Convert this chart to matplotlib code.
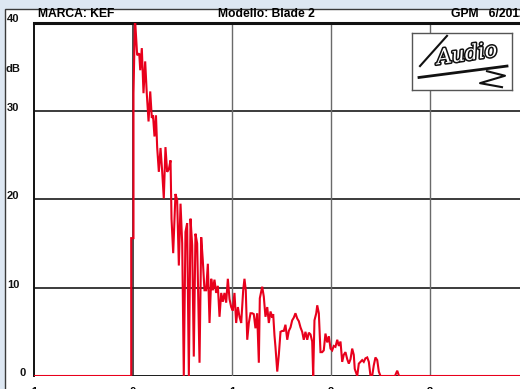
import matplotlib
matplotlib.use("Agg")
import matplotlib.pyplot as plt
from matplotlib.patches import Rectangle
from matplotlib.transforms import blended_transform_factory
import matplotlib.patheffects as pe

plt.rcParams['font.family'] = ['Liberation Sans', 'DejaVu Sans']

# Cumulative decay trace: time (ms) and level (dB)
time_ms = [
    -1.0, -0.018, -0.018, 0.005, 0.005, 0.02, 0.042, 0.063, 0.073, 0.089,
    0.106, 0.123, 0.139, 0.157, 0.174, 0.19, 0.202, 0.217, 0.232, 0.244,
    0.261, 0.278, 0.295, 0.311, 0.328, 0.345, 0.362, 0.379, 0.389, 0.406,
    0.429, 0.446, 0.463, 0.48, 0.497, 0.513, 0.53, 0.547, 0.564, 0.581,
    0.598, 0.614, 0.631, 0.648, 0.672, 0.689, 0.705, 0.722, 0.739, 0.756,
    0.773, 0.79, 0.806, 0.823, 0.84, 0.857, 0.874, 0.891, 0.907, 0.924,
    0.941, 0.958, 0.975, 0.992, 1.008, 1.025, 1.042, 1.059, 1.076, 1.093,
    1.113, 1.126, 1.139, 1.154, 1.17, 1.187, 1.204, 1.22, 1.237, 1.254,
    1.271, 1.281, 1.305, 1.321, 1.338, 1.356, 1.372, 1.389, 1.406, 1.416,
    1.429, 1.439, 1.457, 1.473, 1.49, 1.507, 1.523, 1.54, 1.558, 1.574,
    1.591, 1.608, 1.624, 1.641, 1.659, 1.675, 1.692, 1.709, 1.725, 1.742,
    1.76, 1.776, 1.793, 1.81, 1.82, 1.833, 1.851, 1.861, 1.877, 1.894,
    1.911, 1.927, 1.944, 1.962, 1.978, 1.995, 2.012, 2.028, 2.045, 2.063,
    2.079, 2.096, 2.113, 2.129, 2.146, 2.164, 2.18, 2.197, 2.214, 2.23,
    2.24, 2.265, 2.281, 2.298, 2.315, 2.331, 2.348, 2.366, 2.382, 2.399,
    2.416, 2.432, 2.449, 2.467, 2.483, 2.5, 2.646, 2.669, 2.687, 3.95,
]
level_db = [
    0.0, 0.0, 15.6, 15.6, 32.0, 40.5, 36.3, 36.5, 34.6, 37.1,
    32.0, 35.6, 32.0, 28.8, 32.2, 29.2, 29.5, 27.1, 29.5, 25.9,
    23.1, 25.8, 23.1, 20.1, 25.9, 23.1, 23.4, 24.4, 17.8, 13.9,
    20.6, 19.9, 12.5, 19.5, 15.0, 0.0, 16.3, 17.3, 0.0, 17.8,
    14.8, 2.2, 16.1, 15.0, 1.5, 15.7, 13.1, 9.7, 9.7, 12.7,
    6.0, 11.0, 9.7, 10.9, 9.4, 10.2, 6.7, 9.4, 8.4, 9.4,
    8.3, 11.0, 8.7, 7.8, 7.4, 9.4, 6.0, 7.8, 6.7, 6.0,
    9.7, 11.0, 9.7, 4.1, 6.0, 7.1, 7.1, 7.0, 5.4, 7.1,
    1.5, 8.8, 10.1, 9.0, 6.7, 7.8, 6.0, 7.3, 6.6, 7.0,
    4.6, 3.3, 0.5, 2.4, 5.0, 5.1, 5.1, 5.8, 4.1, 5.1,
    5.5, 6.3, 6.6, 7.1, 6.5, 6.2, 5.5, 5.0, 4.1, 5.0,
    4.1, 4.9, 4.7, 3.9, 0.0, 6.3, 7.1, 8.0, 7.1, 2.7,
    2.7, 2.9, 4.8, 3.8, 4.5, 3.1, 2.9, 3.4, 3.3, 4.1,
    3.4, 3.9, 1.6, 2.4, 2.7, 1.9, 1.4, 1.9, 3.1, 2.4,
    0.8, 0.0, 1.4, 1.6, 1.8, 1.6, 2.0, 2.1, 1.6, 0.0,
    0.0, 1.2, 2.1, 1.8, 0.5, 0.0, 0.0, 0.6, 0.0, 0.0,
]

x_ticks = [-1, 0, 1, 2, 3]
x_tick_labels = ["-1", "0", "1", "2", "3"]
y_ticks = [0, 10, 20, 30, 40]
y_tick_labels = ["0", "10", "20", "30", "40"]

W, H = 520, 389
fig = plt.figure(figsize=(W / 100, H / 100), dpi=100)
fig.patch.set_facecolor("#dde7f2")

# white sheet behind the chart
sheet = Rectangle((4.5 / W, -0.1), 1.2, 1 - 8.5 / H + 0.1, transform=fig.transFigure,
                  facecolor="white", edgecolor="#3a3a3a", linewidth=1.0, zorder=-5)
fig.patches.append(sheet)

left_px, bottom_px, top_px = 34, 376, 22.5
ax = fig.add_axes([left_px / W, (H - bottom_px) / H, (W - left_px) / W, (bottom_px - top_px) / H])
ax.set_zorder(1)
ax.set_facecolor("white")
ax.set_xlim(-1, -1 + (W - left_px) / 99.0)
ax.set_ylim(0, 40)

for s in ["right", "bottom"]:
    ax.spines[s].set_visible(False)
ax.spines["top"].set_linewidth(2.2)
ax.spines["left"].set_linewidth(1.4)
ax.spines["top"].set_color("#111111")
ax.spines["left"].set_color("#111111")

# grid
for yv in [10, 20, 30]:
    ax.axhline(yv, color="#1a1a1a", lw=1.2, zorder=1)
ax.axhline(0, color="#1a1a1a", lw=1.4, zorder=1)
for xv in [1, 2, 3]:
    ax.axvline(xv, color="#6a6a6a", lw=1.0, zorder=1)
ax.axvline(0, color="#1a1a1a", lw=1.1, zorder=1)

ax.plot(time_ms, level_db, color="#e8001c", lw=1.5, zorder=3, solid_joinstyle="miter")

ax.set_xticks(x_ticks)
ax.set_xticklabels(x_tick_labels, fontsize=8, fontweight="bold")
ax.tick_params(axis="x", length=0, pad=8)
ax.set_yticks([])

# y labels
ytrans = blended_transform_factory(fig.transFigure, ax.transData)
for yv, lab in zip(y_ticks, y_tick_labels):
    xpx = 19 if lab == "0" else 7
    ax.text(xpx / W, yv + 0.35, lab, transform=ytrans, clip_on=False,
            fontsize=8, fontweight="bold", ha="left", va="center", color="#111111")
fig.text(6 / W, 1 - 69 / H, "dB", fontsize=8, fontweight="bold", ha="left", va="center", color="#111111")

# header
fig.text(38 / W, 1 - 14 / H, "MARCA: KEF", fontsize=8.7, fontweight="bold", ha="left", va="center")
fig.text(218 / W, 1 - 14 / H, "Modello: Blade 2", fontsize=8.7, fontweight="bold", ha="left", va="center")
fig.text(451 / W, 1 - 14 / H, "GPM   6/2012", fontsize=8.7, fontweight="bold", ha="left", va="center")

# magazine logo
logo = fig.add_axes([412 / W, 1 - 90 / H, 100 / W, 57 / H])
logo.set_zorder(2)
logo.set_xticks([]); logo.set_yticks([])
logo.set_facecolor("white")
for s in logo.spines.values():
    s.set_color("#555555"); s.set_linewidth(1.0)
logo.set_xlim(0, 1); logo.set_ylim(0, 1)
logo.text(0.55, 0.62, "Audio", fontsize=15, fontstyle="italic", family="DejaVu Serif",
          ha="center", va="center", rotation=8, color="white",
          path_effects=[pe.withStroke(linewidth=2.2, foreground="#111111")])
logo.plot([0.07, 0.95], [0.22, 0.42], color="#111111", lw=2.0)
logo.plot([0.08, 0.35], [0.42, 0.95], color="#111111", lw=1.5)
logo.plot([0.75, 0.93, 0.68, 0.9], [0.33, 0.25, 0.12, 0.05], color="#111111", lw=1.5)

fig.savefig("out.png", dpi=100)
